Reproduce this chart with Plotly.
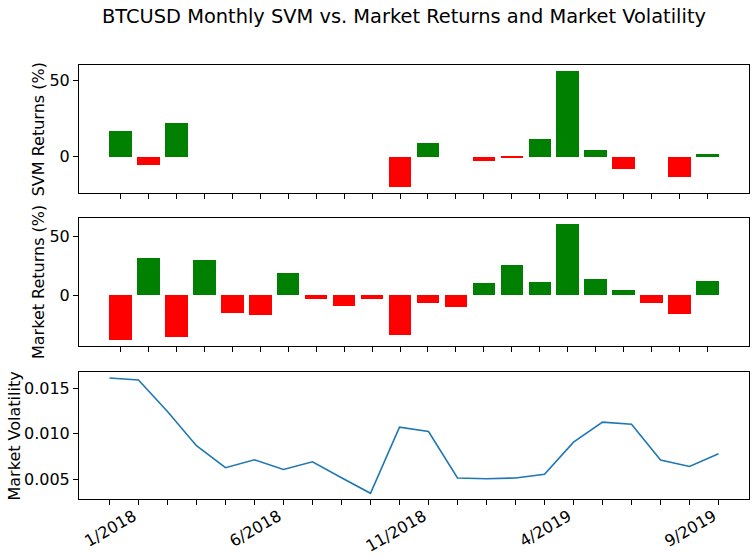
import plotly.graph_objects as go

months = ["12/2017", "1/2018", "2/2018", "3/2018", "4/2018", "5/2018", "6/2018",
          "7/2018", "8/2018", "9/2018", "10/2018", "11/2018", "12/2018", "1/2019",
          "2/2019", "3/2019", "4/2019", "5/2019", "6/2019", "7/2019", "8/2019", "9/2019"]
shown_labels = ["1/2018", "6/2018", "11/2018", "4/2019", "9/2019"]

svm_returns = [17.1, -5.7, 22.4, 0, 0, 0, 0, 0, 0, 0, -20.4, 9.2, 0, -2.6,
               -0.5, 11.8, 56.6, 4.6, -7.9, 0, -13.8, 2.0]
market_returns = [-38.1, 31.5, -35.8, 29.8, -15.1, -16.8, 18.75, -3.4, -9.4, -3.4,
                  -34.1, -6.8, -10.2, 10.2, 25.6, 11.1, 60.5, 13.6, 4.3, -6.8, -16.2, 11.9]
volatility = [0.01613, 0.01591, 0.01245, 0.00869, 0.00628, 0.00715, 0.00609, 0.00693,
              0.00518, 0.00347, 0.01073, 0.01026, 0.00515, 0.00507, 0.00515, 0.00555,
              0.00909, 0.01128, 0.01106, 0.00712, 0.00642, 0.00781]

idx = list(range(len(months)))
def colors(vals):
    return ["green" if v > 0 else "red" for v in vals]

FONT = "DejaVu Sans"
W, H = 755, 560

fig = go.Figure()
fig.add_trace(go.Bar(x=idx, y=svm_returns, width=0.8, marker=dict(color=colors(svm_returns), line=dict(width=0)),
                     xaxis="x", yaxis="y", showlegend=False))
fig.add_trace(go.Bar(x=idx, y=market_returns, width=0.8, marker=dict(color=colors(market_returns), line=dict(width=0)),
                     xaxis="x2", yaxis="y2", showlegend=False))
fig.add_trace(go.Scatter(x=idx, y=volatility, mode="lines", line=dict(color="#1f77b4", width=1.6),
                         xaxis="x3", yaxis="y3", showlegend=False))

ax_common = dict(showline=True, linecolor="black", linewidth=1, mirror=True, ticks="outside",
                 ticklen=5, tickwidth=1, tickcolor="black", showgrid=False, zeroline=False,
                 automargin=False,
                 tickfont=dict(family=FONT, size=16, color="black"))

tick_text = [m if m in shown_labels else "" for m in months]

fig.update_layout(
    width=W, height=H,
    paper_bgcolor="white", plot_bgcolor="white",
    margin=dict(l=79, r=6, t=65, b=H - 499, autoexpand=False),
    bargap=0,
    title=dict(text="BTCUSD Monthly SVM vs. Market Returns and Market Volatility",
               x=404 / W, xanchor="center", y=1 - 16.5 / H, yanchor="middle",
               xref="container", yref="container",
               font=dict(family=FONT, size=19.4, color="black")),
    xaxis=dict(ax_common, domain=[0, 1], anchor="y", range=[-1.49, 22.49], tickvals=idx,
               ticktext=[""] * len(idx)),
    yaxis=dict(ax_common, domain=[0.7044, 1.0], anchor="x", range=[-24.25, 60.45],
               tickvals=[0, 50]),
    xaxis2=dict(ax_common, domain=[0, 1], anchor="y2", range=[-1.49, 22.49], tickvals=idx,
                ticktext=[""] * len(idx)),
    yaxis2=dict(ax_common, domain=[0.3525, 0.6468], anchor="x2", range=[-43.0, 65.4],
                tickvals=[0, 50]),
    xaxis3=dict(ax_common, domain=[0, 1], anchor="y3", range=[-1.05, 22.05], tickvals=idx,
                ticktext=tick_text, tickangle=-30, ticklabelstandoff=-4, ticklabelshift=-5),
    yaxis3=dict(ax_common, domain=[0, 0.2919], anchor="x3", range=[0.00284, 0.01676],
                tickvals=[0.005, 0.010, 0.015], tickformat=".3f"),
)

def ylab(text, xpx, ypx):
    fig.add_annotation(text=text, xref="paper", yref="paper",
                       x=(xpx - 79) / 670, y=(499 - ypx) / 434,
                       xanchor="center", yanchor="middle", textangle=-90, showarrow=False,
                       font=dict(family=FONT, size=16, color="black"))

ylab("SVM Returns (%)", 38, 129.3)
ylab("Market Returns (%)", 38, 282)
ylab("Market Volatility", 13.5, 436)

fig.write_html("out.html", config={"displayModeBar": False},
               post_script="document.body.style.margin='0';document.body.style.overflow='hidden';")
